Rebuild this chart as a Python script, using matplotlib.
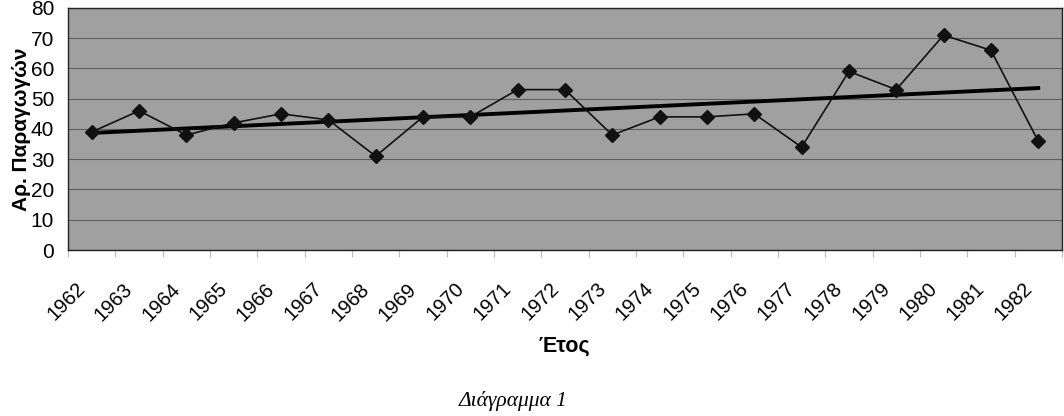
import matplotlib
matplotlib.use('Agg')
import matplotlib.pyplot as plt
import matplotlib.transforms as mtransforms
import numpy as np

# data
years = [1962, 1963, 1964, 1965, 1966, 1967, 1968, 1969, 1970, 1971, 1972,
         1973, 1974, 1975, 1976, 1977, 1978, 1979, 1980, 1981, 1982]
producers = [39, 46, 38, 42, 45, 43, 31, 44, 44, 53, 53,
             38, 44, 44, 45, 34, 59, 53, 71, 66, 36]
y_ticks = [0, 10, 20, 30, 40, 50, 60, 70, 80]

plt.rcParams['font.family'] = ['Liberation Sans', 'DejaVu Sans']

fig = plt.figure(figsize=(10.64, 4.16), dpi=100)
ax = fig.add_axes([0.064, 0.399, 0.934, 0.582])
ax.set_facecolor('#a0a0a0')

x = np.arange(len(years))

# linear trend line (least squares on the data)
coef = np.polyfit(x, producers, 1)
ax.plot(x, np.polyval(coef, x), color='black', lw=2.8, zorder=3)

ax.plot(x, producers, color='#111111', lw=1.2, marker='D', markersize=7,
        markerfacecolor='#111111', markeredgecolor='#111111', zorder=4)

ax.set_xlim(-0.5, len(years) - 0.5)
ax.set_ylim(0, 80)
ax.set_yticks(y_ticks)
ax.set_yticklabels([str(v) for v in y_ticks], fontsize=15)
ax.tick_params(axis='y', length=0, pad=10)

# ticks at category boundaries, labels at centers
ax.set_xticks(np.arange(-0.5, len(years), 1.0))
ax.set_xticklabels([])
ax.tick_params(axis='x', which='major', length=5, color='#bbbbbb', direction='out')
ax.set_xticks(x, minor=True)
ax.set_xticklabels([str(y) for y in years], minor=True, fontsize=14.5,
                   rotation=45, ha='right', rotation_mode='anchor')
ax.tick_params(axis='x', which='minor', length=0, pad=21)
offset = mtransforms.ScaledTranslation(-16 / 100, 0, fig.dpi_scale_trans)
for lbl in ax.get_xticklabels(minor=True):
    lbl.set_transform(lbl.get_transform() + offset)

ax.grid(axis='y', color='#5e5e5e', lw=0.8)
ax.set_axisbelow(True)
for s in ax.spines.values():
    s.set_color('#222222')
    s.set_linewidth(1.0)

ax.set_ylabel('Αρ. Παραγωγών', fontsize=15, fontweight='bold')
ax.yaxis.set_label_coords(-0.037, 0.5)
fig.text(0.53, 0.168, 'Έτος', fontsize=15.5, fontweight='bold', ha='center', va='center')
fig.text(0.482, 0.035, 'Διάγραμμα 1', fontsize=15.5, style='italic',
         family=['Liberation Serif', 'DejaVu Serif'], ha='center', va='center')

fig.savefig('out.png', dpi=100)
